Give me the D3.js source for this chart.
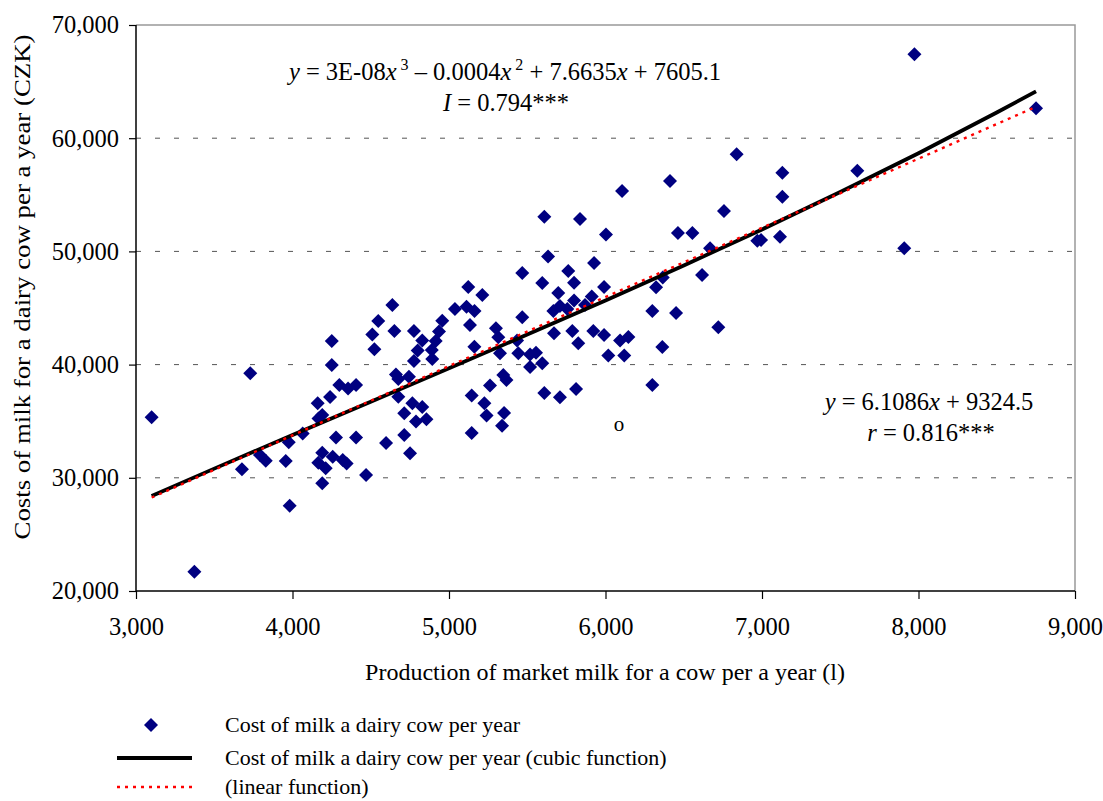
<!DOCTYPE html>
<html>
<head>
<meta charset="utf-8">
<script src="https://cdn.jsdelivr.net/npm/d3@7/dist/d3.min.js"></script>
<style>
body{margin:0;background:#fff;}
svg text{font-family:"Liberation Serif","Times New Roman",serif;fill:#000;}
</style>
</head>
<body>
<svg id="chart" width="1103" height="801"></svg>
<script>
// milk production (l) per cow and year
const milkX = [
  3100,3373,3730,3677,3792,3829,3957,3976,3982,4065,4161,4190,4166,4240,4251,4251,4278,4190,4165,4212,
  4257,4190,4299,4355,4406,4406,4321,4346,4470,4510,4523,4548,4638,4651,4598,4661,4676,4676,4744,4766,
  4829,4714,4789,4856,4714,4751,4776,4829,4800,4776,4890,4893,4915,4936,4957,5038,5112,5163,5123,5213,
  5134,5162,5300,5315,5326,5435,5443,5468,5468,5518,5556,5518,5596,5596,5633,5671,5667,5709,5698,5762,
  5799,5799,5756,5788,5826,5869,5912,5927,5922,5991,5991,6018,6093,6146,6120,6299,6323,6366,6363,6299,
  6451,5347,5367,5262,5145,5226,5240,5352,5339,5145,5609,5709,5812,5609,5837,6003,6106,6412,6463,6555,
  6668,6617,6721,6757,6838,6970,6994,7115,7130,7130,7609,7909,7974,8751
];
// cost of milk per cow and year (CZK)
const costY = [
  35350,21700,39230,30750,32010,31510,31480,33140,27540,33910,36580,35550,35240,37140,42090,39970,33560,32220,31330,30840,
  31860,29510,38200,37890,38200,33560,31570,31260,30250,42660,41350,43850,45270,42970,33070,39130,38730,37160,38930,36580,
  36260,35700,34970,35170,33780,32160,42970,42130,41250,40320,41290,40500,42090,42920,43880,44910,45120,44740,46860,46150,
  43500,41580,43210,42410,41000,42130,41000,44180,48090,40890,41050,39790,40120,47210,49550,42770,44740,45180,46330,48270,
  47240,45660,44910,42970,41880,45270,46020,48980,42970,46860,42620,40800,42130,42440,40800,44740,46830,47700,41560,38200,
  44560,39080,38640,38150,37270,36580,35500,35730,34600,33960,37490,37110,37850,53070,52860,51490,55340,56220,51630,51630,
  50270,47920,43300,53570,58580,50950,51010,51300,56950,54830,57130,50270,67410,62640
];

// fitted curves as drawn
const cubicX = [3100,3500,4000,4500,5000,5500,6000,6500,7000,7500,8000,8500,8751];
const cubicY = [28400,30810,33780,36720,39670,42650,45670,48760,51940,55240,58670,62270,64140];
const linearX = [3100,8751];
const linearY = [28260,62780];

const xTicks = [3000,4000,5000,6000,7000,8000,9000];
const yTicks = [20000,30000,40000,50000,60000,70000];
const gridTicks = [30000,40000,50000,60000];

const legendLabels = [
  "Cost of milk a dairy cow per year",
  "Cost of milk a dairy cow per year (cubic function)",
  "(linear  function)"
];

const svg = d3.select("#chart");
const L = 136, R = 1075, T = 25, B = 591;

const x = d3.scaleLinear().domain([3000,9000]).range([L,R]);
const y = d3.scaleLinear().domain([20000,70000]).range([B,T]);
const fmt = d3.format(",");

// grid
svg.append("g").selectAll("line")
  .data(gridTicks).enter().append("line")
  .attr("x1",L).attr("x2",R)
  .attr("y1",d=>y(d)).attr("y2",d=>y(d))
  .attr("stroke","#555").attr("stroke-width",1)
  .attr("stroke-dasharray","5,14");

// frame: grey top/right
svg.append("path")
  .attr("d","M"+L+","+T+"H"+R+"V"+B)
  .attr("fill","none").attr("stroke","#999").attr("stroke-width",1.5);

// axes
const xAxis = d3.axisBottom(x).tickValues(xTicks).tickFormat(fmt).tickSize(8).tickPadding(19);
const yAxis = d3.axisLeft(y).tickValues(yTicks).tickFormat(fmt).tickSize(7).tickPadding(10);

const gx = svg.append("g").attr("transform","translate(0,"+B+")").call(xAxis);
const gy = svg.append("g").attr("transform","translate("+L+",0)").call(yAxis);
[gx,gy].forEach(g=>{
  g.select(".domain").attr("stroke","#000").attr("stroke-width",1.5);
  g.selectAll(".tick line").attr("stroke","#000").attr("stroke-width",1.2);
  g.selectAll("text").style("font-family","'Liberation Serif',serif").style("font-size","24.5px").attr("fill","#000");
});
gx.select(".domain").attr("d","M"+L+",0H"+R);
gy.select(".domain").attr("d","M0,"+B+"V"+T);

// points
const diamond = "M0,-7L7,0L0,7L-7,0Z";
svg.append("g").selectAll("path")
  .data(milkX.map((v,i)=>[v,costY[i]]))
  .enter().append("path")
  .attr("d",diamond)
  .attr("transform",d=>"translate("+x(d[0])+","+y(d[1])+")")
  .attr("fill","#000080");

// lines
const line = d3.line().x(d=>x(d[0])).y(d=>y(d[1]));
svg.append("path")
  .datum(cubicX.map((v,i)=>[v,cubicY[i]]))
  .attr("d",line).attr("fill","none")
  .attr("stroke","#000").attr("stroke-width",3.8).attr("stroke-linejoin","round");
svg.append("path")
  .datum(linearX.map((v,i)=>[v,linearY[i]]))
  .attr("d",line).attr("fill","none")
  .attr("stroke","#ff0000").attr("stroke-width",2.4).attr("stroke-dasharray","3,5");

// equations
const eq1 = svg.append("text").attr("x",505).attr("y",80).attr("text-anchor","middle").style("font-size","24.5px");
eq1.append("tspan").attr("font-style","italic").text("y");
eq1.append("tspan").text(" = 3E-08");
eq1.append("tspan").attr("font-style","italic").text("x");
eq1.append("tspan").attr("dy",-10).style("font-size","16px").text(" 3");
eq1.append("tspan").attr("dy",10).text(" \u2013 0.0004");
eq1.append("tspan").attr("font-style","italic").text("x");
eq1.append("tspan").attr("dy",-10).style("font-size","16px").text(" 2");
eq1.append("tspan").attr("dy",10).text(" + 7.6635");
eq1.append("tspan").attr("font-style","italic").text("x");
eq1.append("tspan").text("  + 7605.1");

const eq1b = svg.append("text").attr("x",506).attr("y",111).attr("text-anchor","middle").style("font-size","24.5px");
eq1b.append("tspan").attr("font-style","italic").text("I");
eq1b.append("tspan").text(" = 0.794***");

const eq2 = svg.append("text").attr("x",929).attr("y",410).attr("text-anchor","middle").style("font-size","24.5px");
eq2.append("tspan").attr("font-style","italic").text("y");
eq2.append("tspan").text(" = 6.1086");
eq2.append("tspan").attr("font-style","italic").text("x");
eq2.append("tspan").text("  + 9324.5");

const eq2b = svg.append("text").attr("x",931).attr("y",441).attr("text-anchor","middle").style("font-size","24.5px");
eq2b.append("tspan").attr("font-style","italic").text("r");
eq2b.append("tspan").text("  = 0.816***");

svg.append("text").attr("x",619).attr("y",431).attr("text-anchor","middle").style("font-size","21px").text("o");

// axis titles
svg.append("text").attr("x",605).attr("y",680).attr("text-anchor","middle")
  .style("font-size","24px").text("Production of market milk for a cow per a year (l)");
svg.append("text").attr("transform","translate(30,287) rotate(-90)").attr("text-anchor","middle")
  .attr("textLength",505).attr("lengthAdjust","spacingAndGlyphs")
  .style("font-size","24px").text("Costs of milk for a dairy cow per a year (CZK)");

// legend
const lg = svg.append("g");
const ly = [725,758,787];
lg.append("path").attr("d",diamond).attr("transform","translate(151,"+ly[0]+")").attr("fill","#000080");
lg.append("line").attr("x1",117).attr("x2",192).attr("y1",ly[1]).attr("y2",ly[1])
  .attr("stroke","#000").attr("stroke-width",3.8);
lg.append("line").attr("x1",117).attr("x2",192).attr("y1",ly[2]).attr("y2",ly[2])
  .attr("stroke","#ff0000").attr("stroke-width",2.4).attr("stroke-dasharray","3,5");
lg.selectAll("text.lbl").data(legendLabels).enter().append("text")
  .attr("class","lbl").attr("x",225).attr("y",(d,i)=>ly[i]).attr("dy","0.33em")
  .style("font-size","22px").text(d=>d);
</script>
</body>
</html>
